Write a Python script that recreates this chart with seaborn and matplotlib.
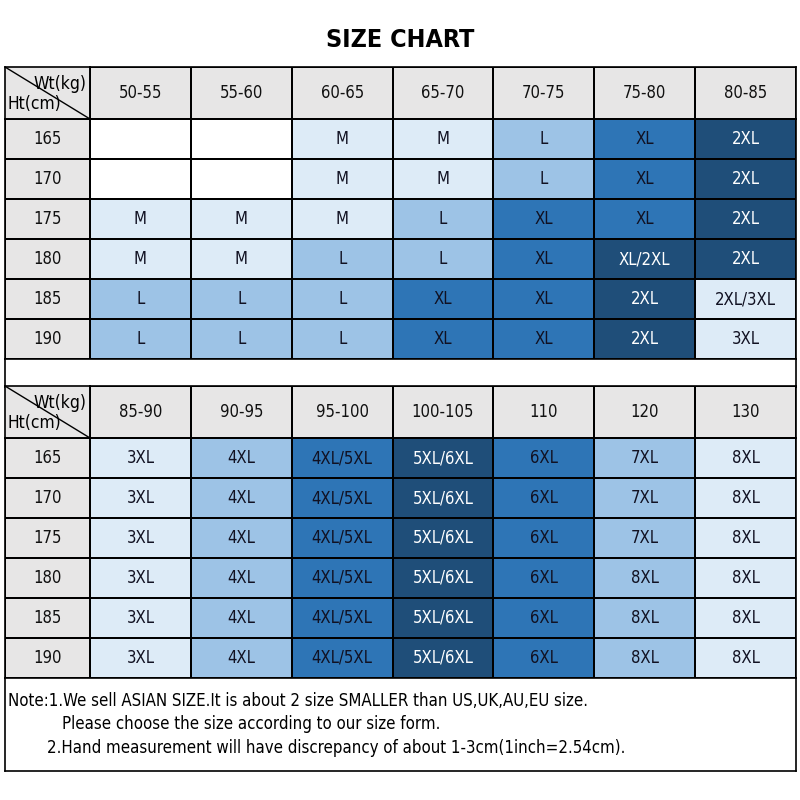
import numpy as np
import pandas as pd
import matplotlib
matplotlib.use("Agg")
import matplotlib.pyplot as plt
from matplotlib.colors import ListedColormap
import seaborn as sns

# table values
heights = ["165", "170", "175", "180", "185", "190"]
weights_top = ["50-55", "55-60", "60-65", "65-70", "70-75", "75-80", "80-85"]
weights_bottom = ["85-90", "90-95", "95-100", "100-105", "110", "120", "130"]

sizes_top = [
    ["", "", "M", "M", "L", "XL", "2XL"],
    ["", "", "M", "M", "L", "XL", "2XL"],
    ["M", "M", "M", "L", "XL", "XL", "2XL"],
    ["M", "M", "L", "L", "XL", "XL/2XL", "2XL"],
    ["L", "L", "L", "XL", "XL", "2XL", "2XL/3XL"],
    ["L", "L", "L", "XL", "XL", "2XL", "3XL"],
]
sizes_bottom = [
    ["3XL", "4XL", "4XL/5XL", "5XL/6XL", "6XL", "7XL", "8XL"],
    ["3XL", "4XL", "4XL/5XL", "5XL/6XL", "6XL", "7XL", "8XL"],
    ["3XL", "4XL", "4XL/5XL", "5XL/6XL", "6XL", "7XL", "8XL"],
    ["3XL", "4XL", "4XL/5XL", "5XL/6XL", "6XL", "8XL", "8XL"],
    ["3XL", "4XL", "4XL/5XL", "5XL/6XL", "6XL", "8XL", "8XL"],
    ["3XL", "4XL", "4XL/5XL", "5XL/6XL", "6XL", "8XL", "8XL"],
]
# shade level of each cell: 0 white, 1 light, 2 mid, 3 blue, 4 dark
shade_top = [
    [0, 0, 1, 1, 2, 3, 4],
    [0, 0, 1, 1, 2, 3, 4],
    [1, 1, 1, 2, 3, 3, 4],
    [1, 1, 2, 2, 3, 4, 4],
    [2, 2, 2, 3, 3, 4, 1],
    [2, 2, 2, 3, 3, 4, 1],
]
shade_bottom = [
    [1, 2, 3, 4, 3, 2, 1],
    [1, 2, 3, 4, 3, 2, 1],
    [1, 2, 3, 4, 3, 2, 1],
    [1, 2, 3, 4, 3, 2, 1],
    [1, 2, 3, 4, 3, 2, 1],
    [1, 2, 3, 4, 3, 2, 1],
]

palette = ["#ffffff", "#ddebf7", "#9dc3e6", "#2e75b6", "#1f4e79"]
header_gray = "#e7e6e6"
FONT = ["DejaVu Sans"]

sns.set_style("white")
plt.rcParams["font.family"] = FONT
plt.rcParams["font.stretch"] = "condensed"
plt.rcParams["text.color"] = "black"

fig = plt.figure(figsize=(8, 8), dpi=100)


def px(x0, y0, x1, y1):
    # pixel box (top-left origin) -> figure fraction rect
    return [x0 / 800, 1 - y1 / 800, (x1 - x0) / 800, (y1 - y0) / 800]


def frame(ax):
    for s in ax.spines.values():
        s.set_visible(True)
        s.set_color("black")
        s.set_linewidth(1.2)


def gray_cells(ax, labels, shape):
    data = np.zeros(shape)
    sns.heatmap(data, ax=ax, cmap=ListedColormap([header_gray]), cbar=False,
                annot=np.array(labels, dtype=object).reshape(shape), fmt="",
                annot_kws={"fontsize": 12, "color": "#111111"},
                linewidths=1.2, linecolor="black",
                xticklabels=False, yticklabels=False)
    frame(ax)


def draw_block(top, weights, sizes, shades):
    # corner cell with diagonal
    ax = fig.add_axes(px(5, top, 90, top + 52))
    sns.heatmap(np.zeros((1, 1)), ax=ax, cmap=ListedColormap([header_gray]),
                cbar=False, xticklabels=False, yticklabels=False)
    ax.plot([0, 1], [0, 1], color="black", lw=1)
    ax.text(0.96, 0.33, "Wt(kg)", ha="right", va="center", fontsize=12.5)
    ax.text(0.03, 0.72, "Ht(cm)", ha="left", va="center", fontsize=12.5)
    frame(ax)

    # weight header
    ax = fig.add_axes(px(90, top, 796, top + 52))
    gray_cells(ax, weights, (1, 7))

    # height column
    ax = fig.add_axes(px(5, top + 52, 90, top + 292))
    gray_cells(ax, heights, (6, 1))

    # size body
    ax = fig.add_axes(px(90, top + 52, 796, top + 292))
    lv = np.array(shades)
    df = pd.DataFrame(lv, index=heights, columns=weights)
    sns.heatmap(df, ax=ax, cmap=ListedColormap(palette), vmin=-0.5, vmax=4.5,
                cbar=False, annot=np.array(sizes, dtype=object), fmt="",
                annot_kws={"fontsize": 12},
                linewidths=1.2, linecolor="black",
                xticklabels=False, yticklabels=False)
    flat = lv.flatten()
    for t, level in zip(ax.texts, flat):
        t.set_color("white" if level == 4 else "#111122")
    frame(ax)


fig.text(0.5, 1 - 40 / 800, "SIZE CHART", ha="center", va="center",
         fontsize=18, fontweight="bold", color="black")

draw_block(67, weights_top, sizes_top, shade_top)

# blank separator row
ax = fig.add_axes(px(5, 359, 796, 387))
ax.set_xticks([])
ax.set_yticks([])
frame(ax)

draw_block(386, weights_bottom, sizes_bottom, shade_bottom)

# note box
ax = fig.add_axes(px(5, 678, 796, 771))
ax.set_xticks([])
ax.set_yticks([])
ax.set_xlim(0, 791)
ax.set_ylim(93, 0)
frame(ax)
note_kw = dict(va="center", fontsize=12.1)
ax.text(3, 23, "Note:1.We sell ASIAN SIZE.It is about 2 size SMALLER than US,UK,AU,EU size.",
        **note_kw)
ax.text(57, 46, "Please choose the size according to our size form.", **note_kw)
ax.text(42, 70, "2.Hand measurement will have discrepancy of about 1-3cm(1inch=2.54cm).",
        **note_kw)

fig.savefig("out.png", dpi=100)
